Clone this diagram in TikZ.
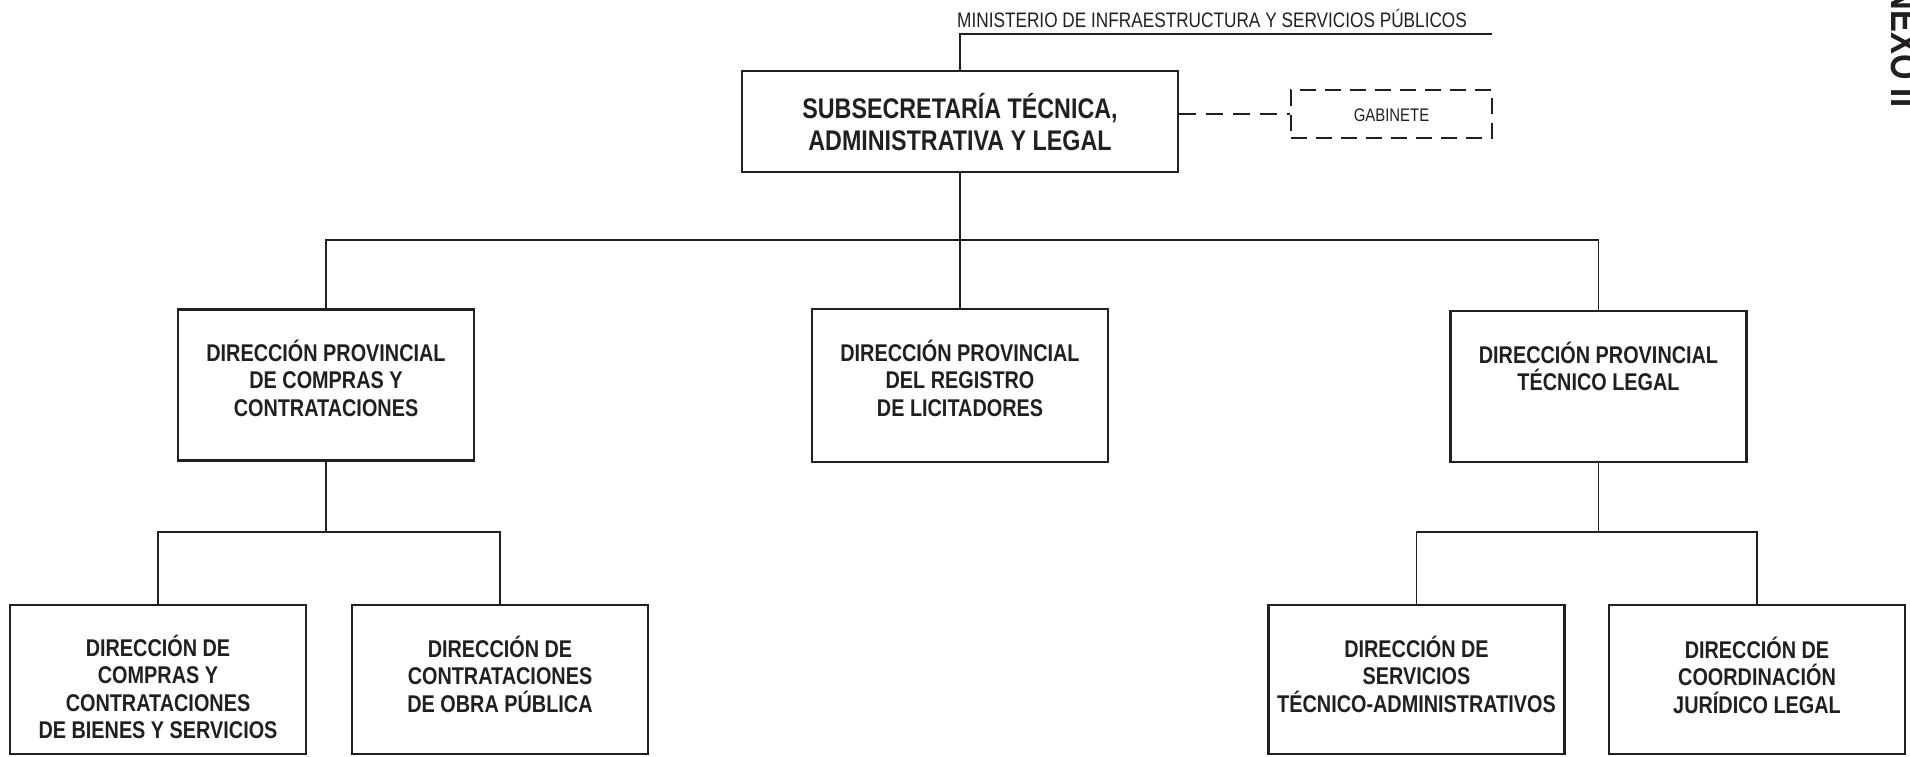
\documentclass[tikz,border=0pt]{standalone}
\usepackage{fontspec}
\setmainfont{Liberation Sans}[FakeStretch=0.82]
\definecolor{ink}{HTML}{231F20}
\begin{document}
\begin{tikzpicture}[x=1pt,y=-1pt,
  box/.style={draw=ink, line width=2.7pt, inner sep=0pt, minimum width=296pt},
  dbox/.style={draw=ink, line width=2.4pt, dash pattern=on 16pt off 9pt, inner sep=0pt},
  conn/.style={draw=ink, line width=1.3pt},
  dconn/.style={draw=ink, line width=2.4pt, dash pattern=on 17pt off 10pt},
  lbl/.style={align=center, font=\bfseries\fontsize{24.2}{27.5}\selectfont, text=ink, inner sep=0pt, anchor=base},
  toplbl/.style={align=center, font=\bfseries\fontsize{28.4}{31.7}\selectfont, text=ink, inner sep=0pt, anchor=base},
  small/.style={font=\fontsize{21}{24}\selectfont, text=ink, inner sep=0pt, anchor=base west},
]
\useasboundingbox (0,0) rectangle (1910,756);
\clip (0,0) rectangle (1910,756);

% top
\node[box, minimum width=436pt, minimum height=101pt] (top) at (960,121.5) {};
\node[toplbl] (topT) at (960,150.1) {SUBSECRETARÍA TÉCNICA,\\ADMINISTRATIVA Y LEGAL};

\node[small] (min) at (957,27) {MINISTERIO DE INFRAESTRUCTURA Y SERVICIOS PÚBLICOS};
\coordinate (minend) at (1492,34);

\node[dbox, minimum width=201pt, minimum height=48pt] (gab) at (1391.5,114) {};
\node[font=\fontsize{18.2}{20}\selectfont, text=ink, inner sep=0pt, anchor=base] (gabT) at (1391.5,121.5) {GABINETE};

% level 2
\node[box, minimum height=151pt] (dpL) at (326,385) {};
\node[box, minimum height=153pt] (dpM) at (960,385.5) {};
\node[box, minimum height=151pt] (dpR) at (1598.5,386.5) {};
\node[lbl] (dpLT) at (326,416) {DIRECCIÓN PROVINCIAL\\DE COMPRAS Y\\CONTRATACIONES};
\node[lbl] (dpMT) at (960,416) {DIRECCIÓN PROVINCIAL\\DEL REGISTRO\\DE LICITADORES};
\node[lbl] (dpRT) at (1598.5,390.5) {DIRECCIÓN PROVINCIAL\\TÉCNICO LEGAL};

% level 3
\node[box, minimum height=149pt] (d1) at (158,679.5) {};
\node[box, minimum height=149pt] (d2) at (500,679.5) {};
\node[box, minimum height=149pt] (d3) at (1416.5,679.5) {};
\node[box, minimum height=149pt] (d4) at (1757,679.5) {};
\node[lbl] (d1T) at (158,738.5) {DIRECCIÓN DE\\COMPRAS Y\\CONTRATACIONES\\DE BIENES Y SERVICIOS};
\node[lbl] (d2T) at (500,712) {DIRECCIÓN DE\\CONTRATACIONES\\DE OBRA PÚBLICA};
\node[lbl] (d3T) at (1416.5,712) {DIRECCIÓN DE\\SERVICIOS\\TÉCNICO-ADMINISTRATIVOS};
\node[lbl] (d4T) at (1757,713) {DIRECCIÓN DE\\COORDINACIÓN\\JURÍDICO LEGAL};

% annex mark (cut by the page edge)
\node[font=\bfseries\fontsize{40}{42}\selectfont, text=ink, inner sep=0pt, anchor=base west, rotate=-90] (anx) at (1891,-37) {ANEXO II};

% connectors
\coordinate (bus) at (960,240);
\coordinate (busL) at (326,532);
\coordinate (busR) at (1598.5,532);
\draw[conn] (top.north) |- (minend);
\draw[dconn] (top.east |- gab.west) -- (gab.west);
\draw[conn] (top.south) -- (bus);
\draw[conn] (dpL.north) |- (bus) -| (dpR.north);
\draw[conn] (bus) -- (dpM.north);
\draw[conn] (dpL.south) -- (busL);
\draw[conn] (d1.north) |- (busL) -| (d2.north);
\draw[conn] (dpR.south) -- (busR);
\draw[conn] (d3.north) |- (busR) -| (d4.north);
\end{tikzpicture}
\end{document}
